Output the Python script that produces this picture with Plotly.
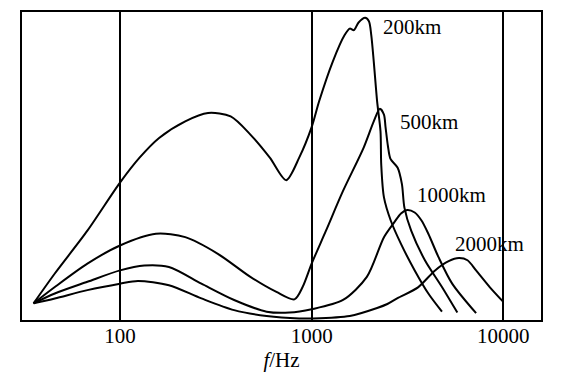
import plotly.graph_objects as go

# Frequency (Hz) and relative amplitude (arbitrary units, 0-100) for each distance
freq_200km = [35.4, 45.7, 67.6, 100, 126.5, 160, 219, 288, 378, 479, 605, 736, 861, 1000, 1094,
              1289, 1486, 1581, 1661, 1753, 1901, 1990, 2047, 2109, 2196, 2287, 2307, 2384,
              2586, 2925, 3449, 4063, 4786]
amp_200km = [5.4, 15.1, 29.0, 44.6, 52.7, 59.1, 64.5, 67.2, 66.1, 60.2, 52.7, 45.4, 52.7, 62.6, 71.0,
             83.9, 92.5, 94.6, 94.1, 96.5, 98.1, 97.0, 92.5, 83.9, 71.0, 61.3, 50.5, 39.8,
             32.3, 24.7, 16.1, 8.6, 2.7]

freq_500km = [35.4, 45.7, 67.6, 100, 154, 219, 324, 479, 655, 813, 897, 1000, 1188, 1458, 1866,
              2109, 2270, 2384, 2427, 2500, 2578, 2806, 2958, 3048, 3306, 3899, 4786, 5757]
amp_500km = [5.4, 10.7, 18.3, 24.2, 28.0, 26.9, 21.5, 14.0, 9.1, 6.7, 10.7, 18.3, 29.0, 41.9, 55.9,
             64.5, 68.6, 66.7, 62.9, 56.5, 52.3, 49.5, 44.1, 36.5, 29.0, 19.4, 10.7, 2.4]

freq_1000km = [35.4, 45.7, 67.6, 100, 134, 180, 266, 394, 582, 765, 1000, 1458, 1941, 2384,
               2697, 2925, 3148, 3449, 3743, 4063, 4592, 5410, 7211]
amp_1000km = [5.4, 8.6, 12.4, 16.1, 17.7, 17.2, 11.8, 6.5, 2.7, 2.4, 3.5, 6.5, 14.0, 26.9,
              31.7, 34.6, 35.7, 34.9, 32.3, 28.0, 20.4, 11.8, 2.2]

freq_2000km = [35.4, 45.7, 67.6, 100, 124, 180, 266, 394, 582, 861, 1000, 1581, 2196, 2483,
               2806, 3589, 4406, 5188, 5869, 6504, 7211, 8492, 10000]
amp_2000km = [5.4, 7.0, 9.7, 11.8, 12.7, 11.3, 7.0, 3.2, 1.3, 0.5, 0.5, 1.3, 3.9, 5.2,
              7.1, 10.6, 16.1, 19.1, 20.1, 19.4, 16.1, 10.7, 5.9]

series_labels = ["200km", "500km", "1000km", "2000km"]
tick_values = [100, 1000, 10000]
tick_labels = ["100", "1000", "10000"]
x_title = "<i>f</i>/Hz"

FONT = "Liberation Serif, Times New Roman, serif"

fig = go.Figure()
for fx, ay, name in [(freq_200km, amp_200km, series_labels[0]),
                     (freq_500km, amp_500km, series_labels[1]),
                     (freq_1000km, amp_1000km, series_labels[2]),
                     (freq_2000km, amp_2000km, series_labels[3])]:
    fig.add_trace(go.Scatter(x=fx, y=ay, mode="lines", name=name,
                             line=dict(color="black", width=2, shape="spline", smoothing=0.8),
                             showlegend=False, hoverinfo="skip"))

label_pos = [(0.752, 0.950), (0.784, 0.643), (0.828, 0.406), (0.900, 0.247)]
for name, (px, py) in zip(series_labels, label_pos):
    fig.add_annotation(text=name, x=px, y=py, xref="paper", yref="paper",
                       xanchor="center", yanchor="middle", showarrow=False,
                       font=dict(family=FONT, size=21, color="black"))

fig.update_xaxes(type="log", range=[1.4887, 4.1967],
                 tickvals=tick_values, ticktext=tick_labels,
                 showgrid=True, gridcolor="black", gridwidth=1.8,
                 showline=True, linecolor="black", linewidth=2, mirror=True,
                 ticks="", ticklen=0, ticklabelstandoff=-4, zeroline=False,
                 tickfont=dict(family=FONT, size=21, color="black"),
                 title=dict(text=x_title, font=dict(family=FONT, size=21, color="black"), standoff=0))
fig.update_yaxes(range=[0, 100], showgrid=False, showticklabels=False, ticks="",
                 showline=True, linecolor="black", linewidth=2, mirror=True, zeroline=False)

# page body has an 8px default margin: figure is 568x379 so the plot sits where the reference has it
fig.update_layout(width=568, height=379, margin=dict(l=14, r=35, t=2, b=67),
                  plot_bgcolor="white", paper_bgcolor="white")

fig.write_html("out.html")
